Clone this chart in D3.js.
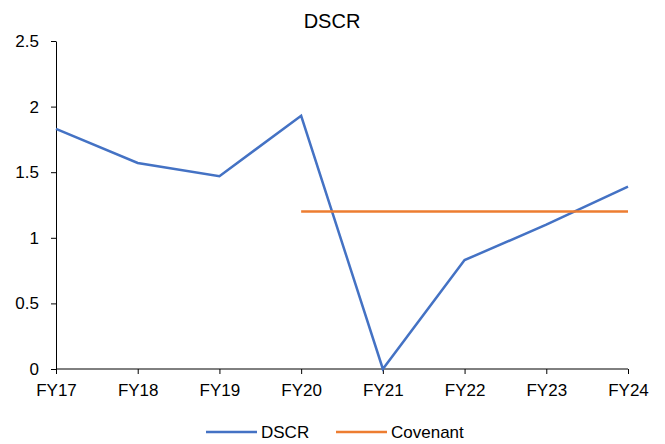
<!DOCTYPE html>
<html><head><meta charset="utf-8">
<script src="https://cdn.jsdelivr.net/npm/d3@7"></script>
<style>body{margin:0;background:#fff;} text{font-family:"Liberation Sans",Arial,sans-serif;}</style>
</head><body>
<svg id="c" width="665" height="444"></svg>
<script>
const categories = ["FY17","FY18","FY19","FY20","FY21","FY22","FY23","FY24"];
const dscrValues = [1.83, 1.57, 1.47, 1.93, 0.0, 0.83, 1.10, 1.39];
const covenantValues = [null, null, null, 1.2, 1.2, 1.2, 1.2, 1.2];
const yTicks = [0, 0.5, 1, 1.5, 2, 2.5];

const svg = d3.select("#c");
const x = d3.scalePoint().domain(categories).range([56, 628]);
const y = d3.scaleLinear().domain([0, 2.5]).range([369, 41]);

svg.append("text").attr("x", 332).attr("y", 28).attr("text-anchor","middle")
  .attr("font-size", 20).attr("fill","#000").text("DSCR");

const yAxis = svg.append("g").attr("transform","translate(56,0)")
  .call(d3.axisLeft(y).tickValues(yTicks).tickFormat(d3.format("")).tickSize(5).tickPadding(12).tickSizeOuter(0));
yAxis.selectAll("text").attr("font-size",17).attr("fill","#000");
yAxis.selectAll("line,path").attr("stroke","#000");

const xAxis = svg.append("g").attr("transform","translate(0,369)")
  .call(d3.axisBottom(x).tickSize(5).tickSizeOuter(0));
xAxis.selectAll("text").attr("font-size",17).attr("fill","#000").attr("y",27).attr("dy",0);
xAxis.selectAll("line,path").attr("stroke","#000");
xAxis.select("path").attr("d","M56,0H628");

const line = d3.line().defined(d => d.v !== null).x(d => x(d.c)).y(d => y(d.v));
svg.append("path").datum(categories.map((c,i)=>({c, v: dscrValues[i]})))
  .attr("d", line).attr("fill","none").attr("stroke","#4472C4").attr("stroke-width",2.5);
svg.append("path").datum(categories.map((c,i)=>({c, v: covenantValues[i]})))
  .attr("d", line).attr("fill","none").attr("stroke","#ED7D31").attr("stroke-width",2.5);

const leg = [{name:"DSCR", color:"#4472C4", x:206},{name:"Covenant", color:"#ED7D31", x:336}];
leg.forEach(l => {
  svg.append("line").attr("x1", l.x).attr("x2", l.x+51).attr("y1",432).attr("y2",432)
    .attr("stroke", l.color).attr("stroke-width",2.5);
  svg.append("text").attr("x", l.x+55).attr("y", 438).attr("font-size",17).attr("fill","#000").text(l.name);
});
</script>
</body></html>
